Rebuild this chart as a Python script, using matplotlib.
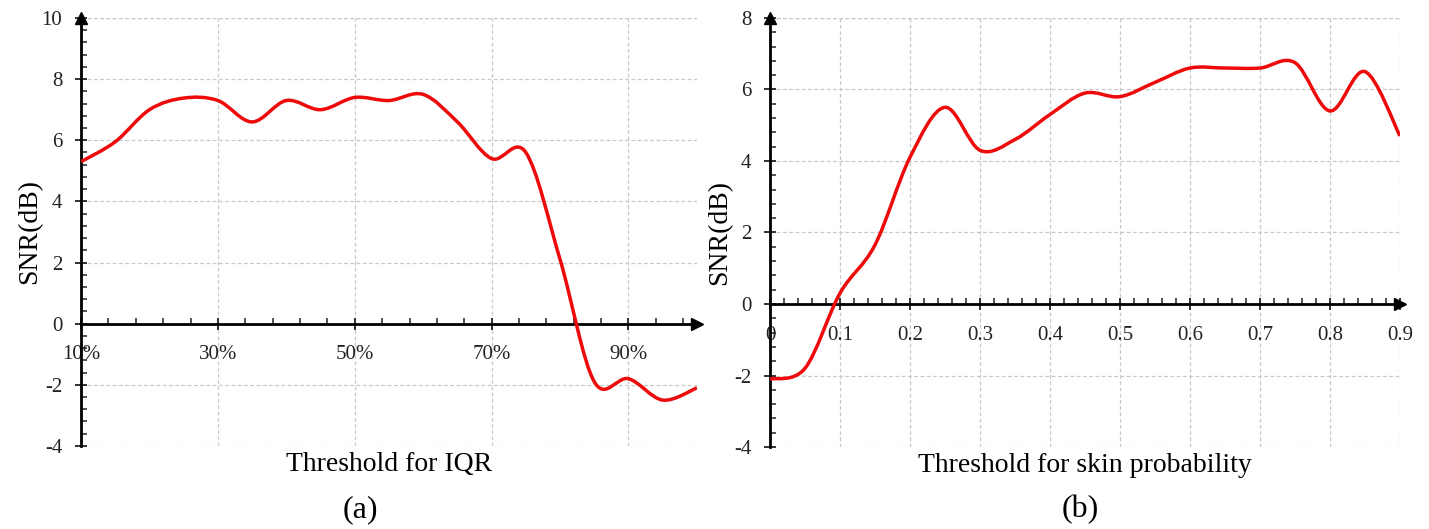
import matplotlib
matplotlib.use("Agg")
import matplotlib.pyplot as plt
from matplotlib.path import Path
from matplotlib.patches import PathPatch
from matplotlib.ticker import MultipleLocator, FuncFormatter
import numpy as np

plt.rcParams['font.family'] = ['Liberation Serif', 'DejaVu Serif']

# (a) SNR vs IQR threshold (%)
iqr_x = [10, 15, 20, 25, 30, 35, 40, 45, 50, 55, 60, 65, 70, 75, 80, 85, 90, 95, 100]
iqr_snr = [5.3, 5.95, 7.0, 7.38, 7.3, 6.6, 7.3, 7.0, 7.4, 7.3, 7.5, 6.6, 5.4, 5.6,
           2.1, -1.9, -1.8, -2.5, -2.1]

# (b) SNR vs skin probability threshold
skin_x = [0, 0.05, 0.1, 0.15, 0.2, 0.25, 0.3, 0.35, 0.4, 0.45, 0.5, 0.55, 0.6, 0.65,
          0.7, 0.75, 0.8, 0.85, 0.9]
skin_snr = [-2.1, -1.8, 0.3, 1.65, 4.1, 5.5, 4.3, 4.6, 5.3, 5.9, 5.8, 6.2, 6.6, 6.6,
            6.6, 6.75, 5.4, 6.5, 4.7]

RED = '#ee0a0a'


def smooth_path(xs, ys):
    # excel-like smoothed line: bezier segments through the points
    p = np.column_stack([xs, ys]).astype(float)
    n = len(p)
    verts = [p[0]]
    codes = [Path.MOVETO]
    for i in range(n - 1):
        p0 = p[i - 1] if i > 0 else p[i]
        p3 = p[i + 2] if i + 2 < n else p[i + 1]
        c1 = p[i] + (p[i + 1] - p0) / 6
        c2 = p[i + 1] - (p3 - p[i]) / 6
        verts += [c1, c2, p[i + 1]]
        codes += [Path.CURVE4] * 3
    return Path(verts, codes)


def setup(ax, xlim, ylim, xmaj, xmin_, xoff, ymaj, ymin_, fmt):
    ax.set_xlim(*xlim)
    ax.set_ylim(*ylim)
    for s in ['top', 'right']:
        ax.spines[s].set_visible(False)
    ax.spines['bottom'].set_position(('data', 0))
    ax.spines['left'].set_linewidth(2)
    ax.spines['bottom'].set_linewidth(2)
    ax.xaxis.set_major_locator(MultipleLocator(xmaj, offset=xoff))
    ax.xaxis.set_minor_locator(MultipleLocator(xmin_, offset=xoff % xmin_))
    ax.yaxis.set_major_locator(MultipleLocator(ymaj))
    ax.yaxis.set_minor_locator(MultipleLocator(ymin_))
    ax.xaxis.set_major_formatter(FuncFormatter(fmt))
    ax.yaxis.set_major_formatter(FuncFormatter(lambda v, p: '%d' % round(v)))
    ax.tick_params(which='major', direction='inout', length=9, width=1.3,
                   labelsize=15, colors='#222222')
    ax.tick_params(axis='x', which='major', pad=11)
    ax.tick_params(axis='y', which='major', pad=9)
    ax.tick_params(which='minor', direction='in', length=4, width=1.1, color='#222222')
    ax.grid(True, which='major', ls=(0, (3, 2)), color='#c8c8c8', lw=0.9)
    ax.axhline(ylim[1], ls=(0, (3, 2)), color='#c8c8c8', lw=0.9)
    ax.plot(xlim[1], 0, marker='>', ms=8, color='k', clip_on=False, zorder=5)
    ax.plot(xlim[0], ylim[1], marker='^', ms=8, color='k', clip_on=False, zorder=5)


fig = plt.figure(figsize=(14.29, 5.29), dpi=100)
ax1 = fig.add_axes([0.0567, 0.157, 0.431, 0.809])
ax2 = fig.add_axes([0.5388, 0.155, 0.4409, 0.811])

setup(ax1, (10, 100), (-4, 10), 20, 4, 10, 2, 0.4, lambda v, p: '%d%%' % round(v))
setup(ax2, (0, 0.9), (-4, 8), 0.1, 0.02, 0, 2, 0.4,
      lambda v, p: '0' if abs(v) < 1e-9 else ('%.1f' % v))

ax1.add_patch(PathPatch(smooth_path(iqr_x, iqr_snr), fill=False, color=RED, lw=2.5, zorder=4))
ax2.add_patch(PathPatch(smooth_path(skin_x, skin_snr), fill=False, color=RED, lw=2.5, zorder=4))

ax1.set_xlabel('Threshold for IQR', fontsize=20)
ax1.xaxis.set_label_coords(0.5, -0.015)
ax1.set_ylabel('SNR(dB)', fontsize=20)
ax1.yaxis.set_label_coords(-0.063, 0.5)

ax2.set_xlabel('Threshold for skin probability', fontsize=20)
ax2.xaxis.set_label_coords(0.5, -0.015)
ax2.set_ylabel('SNR(dB)', fontsize=20)
ax2.yaxis.set_label_coords(-0.06, 0.5)

fig.text(360 / 1429, 1 - 510 / 529, '(a)', fontsize=23, ha='center', va='center')
fig.text(1080 / 1429, 1 - 510 / 529, '(b)', fontsize=23, ha='center', va='center')

fig.savefig('out.png', dpi=100)
